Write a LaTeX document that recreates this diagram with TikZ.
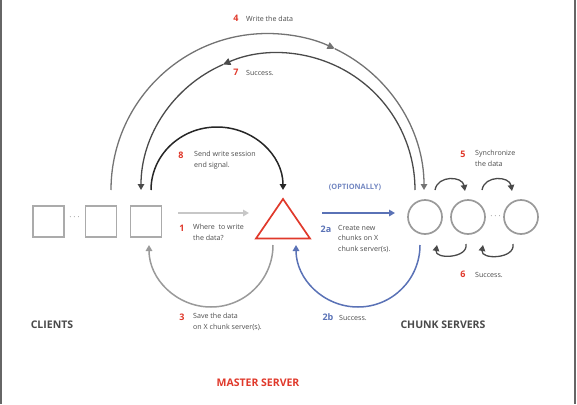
\documentclass[tikz,border=0pt]{standalone}
\usepackage{fontspec}
\setmainfont{Open Sans}
\usetikzlibrary{arrows.meta, positioning}

\definecolor{mred}{HTML}{E0392B}
\definecolor{mblue}{HTML}{5A72B6}
\definecolor{txtgray}{HTML}{4A4A4A}
\definecolor{boxgray}{HTML}{ABABAB}
\definecolor{circgray}{HTML}{9A9A9A}

\tikzset{
  tip/.style={-{Triangle[length=6pt,width=6.5pt]}},
  bigtip/.style={-{Triangle[length=7.5pt,width=7pt]}},
  client/.style={draw=boxgray, line width=1.7pt, minimum size=31pt, inner sep=0},
  chunk/.style={draw=circgray, line width=1.7pt, circle, minimum size=34pt, inner sep=0},
  dots/.style={text=black!70, font=\fontsize{9}{9}\selectfont\bfseries, inner sep=0},
  num/.style={font=\fontsize{9}{9}\selectfont\bfseries, text=mred, inner sep=0},
  numb/.style={font=\fontsize{9}{9}\selectfont\bfseries, text=mblue, inner sep=0},
  lbl/.style={font=\fontsize{7.1}{10.5}\selectfont, text=txtgray, align=left, anchor=west, inner sep=0},
  title/.style={font=\fontsize{10.5}{12}\selectfont\bfseries, text=txtgray, inner sep=0}
}

\begin{document}
\begin{tikzpicture}[x=1pt,y=1pt]
\useasboundingbox (0,0) rectangle (577,-404);
\draw[line width=1.6pt, gray!80!black] (1,0) -- (1,-404);
\draw[line width=1.6pt, gray!80!black] (575,0) -- (575,-404);

\node[client] (cl1) at (48.5,-221.5) {};
\node[client] (cl2) at (101,-221.5) {};
\node[client] (cl3) at (146,-221.5) {};
\node[dots] (cldots) at (74.5,-217) {$\cdots$};

\node[chunk] (cs1) at (425,-217) {};
\node[chunk] (cs2) at (468,-217) {};
\node[chunk] (cs3) at (521,-217) {};
\node[dots] (csdots) at (495.5,-216) {$\cdots$};

\coordinate (mtop) at (283,-199);
\coordinate (mleft) at (256,-238.5);
\coordinate (mright) at (310,-238.5);
\draw[mred, line width=1.7pt, line join=miter] (mtop) -- (mleft) -- (mright) -- cycle;

\coordinate (o4) at (267.5,-190);
\coordinate (o7) at (278,-190);
\coordinate (a4s) at ([shift={(180:156.5)}]o4);
\coordinate (m4) at ([shift={(64.5:156.5)}]o4);
\coordinate (a7s) at ([shift={(0:137)}]o7);
\coordinate (m7) at ([shift={(113.7:137)}]o7);
\coordinate (a8s) at (151,-190);
\coordinate (a1s) at (178,-213);
\coordinate (a1e) at (249,-213);
\coordinate (a2s) at (322,-213);
\coordinate (a2e) at (395,-213);
\coordinate (a3s) at (273,-245);
\coordinate (a2bs) at (420,-245);
\coordinate (s1s) at (435,-190);
\coordinate (s1e) at (465,-191);
\coordinate (s2s) at (482,-190);
\coordinate (s2e) at (512,-191);
\coordinate (r1s) at (466,-244);
\coordinate (r1e) at (437,-245);
\coordinate (r2s) at (513,-244);
\coordinate (r2e) at (483,-245);

\draw[bigtip, line width=1.3pt, gray!110] (a4s) arc[start angle=180, end angle=64.5, radius=156.5];
\draw[tip, line width=1.3pt, gray!110] (m4) arc[start angle=64.5, end angle=0, radius=156.5];
\draw[bigtip, line width=1.3pt, txtgray] (a7s) arc[start angle=0, end angle=113.7, radius=137];
\draw[tip, line width=1.3pt, txtgray] (m7) arc[start angle=113.7, end angle=180, radius=137];
\draw[tip, line width=1.5pt, black!85] (a8s) arc[start angle=180, end angle=0, x radius=66, y radius=63];
\draw[tip, line width=1.7pt, black!22] (a1s) -- (a1e);
\draw[tip, line width=1.7pt, mblue] (a2s) -- (a2e);
\draw[tip, line width=1.5pt, circgray] (a3s) arc[start angle=0, end angle=-180, radius=62];
\draw[tip, line width=1.5pt, mblue] (a2bs) arc[start angle=0, end angle=-180, radius=62];
\draw[tip, line width=1.3pt, txtgray] (s1s) to[out=80, in=100, looseness=1.3] (s1e);
\draw[tip, line width=1.3pt, txtgray] (s2s) to[out=80, in=100, looseness=1.3] (s2e);
\draw[tip, line width=1.3pt, txtgray] (r1s) to[out=-80, in=-100, looseness=1.3] (r1e);
\draw[tip, line width=1.3pt, txtgray] (r2s) to[out=-80, in=-100, looseness=1.3] (r2e);

\node[num] (n4) at (236,-18) {4};
\node[lbl] (t4) at (246,-18.5) {Write the data};
\node[num] (n7) at (236,-72) {7};
\node[lbl] (t7) at (246,-72.5) {Success.};
\node[num] (n8) at (181,-155) {8};
\node[lbl, anchor=north west] (t8) at (194,-151) {Send write session\\end signal.};
\node[num] (n1) at (182,-228) {1};
\node[lbl, anchor=north west] (t1) at (193,-224) {Where~ to write\\the data?};
\node[font=\fontsize{7.4}{8}\selectfont\bfseries, text=mblue!85, inner sep=0] (opt) at (355,-187) {(OPTIONALLY)};
\node[numb] (n2a) at (326,-229) {2a};
\node[lbl, anchor=north west] (t2a) at (338,-225) {Create new\\chunks on X\\chunk server(s).};
\node[num] (n5) at (463,-154) {5};
\node[lbl, anchor=north west] (t5) at (475,-150) {Synchronize\\the data};
\node[num] (n6) at (463,-274) {6};
\node[lbl] (t6) at (475,-274.5) {Success.};
\node[num] (n3) at (182,-317) {3};
\node[lbl, anchor=north west] (t3) at (193,-313) {Save the data\\on X chunk server(s).};
\node[numb] (n2b) at (328,-317) {2b};
\node[lbl] (t2b) at (339,-317.5) {Success.};

\node[title] (clients) at (52,-325) {CLIENTS};
\node[title] (chunks) at (443,-325) {CHUNK SERVERS};
\node[title, text=mred] (master) at (258,-383) {MASTER SERVER};
\end{tikzpicture}
\end{document}
